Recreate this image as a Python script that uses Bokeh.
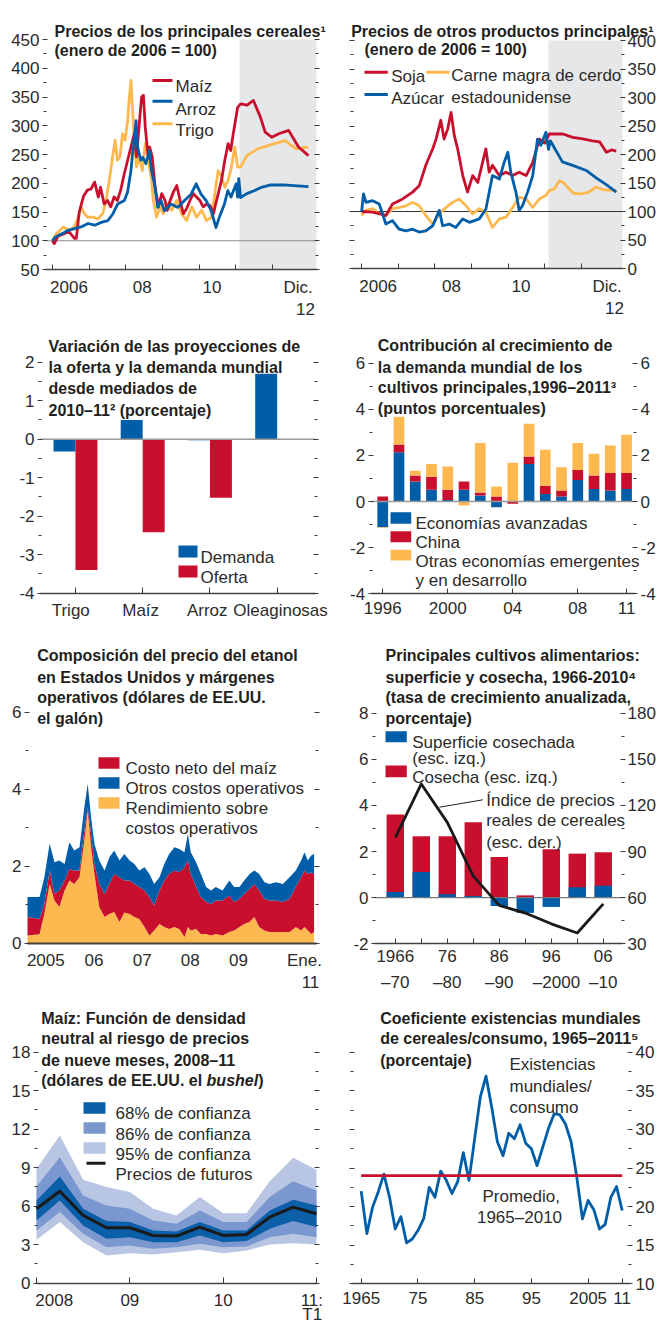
from bokeh.plotting import figure
from bokeh.models import Range1d, LinearAxis, FixedTicker, Label, BoxAnnotation
from bokeh.layouts import column, row
from bokeh.embed import file_html
from bokeh.resources import INLINE

# ======================= DATA =======================
# Panel 1: precios de los principales cereales (enero 2006 = 100)
PROYECCION_DESDE = 2011.1
BASE_INDICE = 100
maiz_t = [2006.0, 2006.05, 2006.15, 2006.3, 2006.45, 2006.6, 2006.65, 2006.73, 2006.85, 2006.95,
          2007.05, 2007.15, 2007.25, 2007.31, 2007.41, 2007.5, 2007.59, 2007.68, 2007.77, 2007.86,
          2007.96, 2008.05, 2008.14, 2008.23, 2008.29, 2008.36, 2008.43, 2008.48, 2008.53, 2008.6,
          2008.65, 2008.72, 2008.8, 2008.89, 2008.98, 2009.07, 2009.13, 2009.21, 2009.3, 2009.39,
          2009.48, 2009.57, 2009.66, 2009.75, 2009.84, 2009.93, 2010.02, 2010.11, 2010.2, 2010.3,
          2010.39, 2010.45, 2010.52, 2010.61, 2010.7, 2010.79, 2010.86, 2010.93, 2010.99, 2011.05,
          2011.13, 2011.31, 2011.48, 2011.67, 2011.8, 2011.98, 2012.17, 2012.44, 2012.58, 2012.71, 2012.98]
maiz_v = [100, 95, 108, 112, 116, 104, 104, 150, 178, 188,
          190, 202, 176, 193, 164, 170, 159, 176, 170, 188,
          217, 240, 263, 286, 246, 298, 350, 353, 298, 251,
          263, 246, 193, 159, 182, 170, 153, 170, 185, 196,
          170, 147, 156, 170, 182, 176, 170, 159, 164, 161,
          147, 164, 182, 205, 240, 269, 257, 286, 309, 332,
          338, 336, 344, 315, 289, 280, 286, 292, 277, 263, 248]
trigo_t = [2006.0, 2006.1, 2006.2, 2006.3, 2006.45, 2006.6, 2006.7, 2006.78, 2006.87, 2006.96,
           2007.1, 2007.23, 2007.37, 2007.46, 2007.55, 2007.64, 2007.71, 2007.77, 2007.84, 2007.91, 2007.98,
           2008.05, 2008.09, 2008.14, 2008.19, 2008.23, 2008.29, 2008.36, 2008.45, 2008.53, 2008.62,
           2008.69, 2008.75, 2008.84, 2008.93, 2009.02, 2009.11, 2009.25, 2009.39, 2009.52, 2009.66,
           2009.8, 2009.93, 2010.07, 2010.2, 2010.34, 2010.45, 2010.52, 2010.61, 2010.7, 2010.79,
           2010.88, 2010.97, 2011.05, 2011.13, 2011.3, 2011.6, 2011.9, 2012.17, 2012.35, 2012.5,
           2012.65, 2012.98]
trigo_v = [100, 112, 118, 124, 118, 124, 141, 159, 147, 141,
           141, 138, 147, 170, 205, 246, 275, 240, 246, 286, 275,
           309, 344, 379, 321, 275, 228, 246, 222, 269, 240,
           211, 170, 141, 159, 147, 164, 153, 170, 147, 135,
           159, 141, 153, 135, 141, 193, 222, 211, 193, 205,
           228, 263, 228, 228, 248, 260, 266, 271, 274, 266,
           260, 263]
arroz_t = [2006.0, 2006.07, 2006.25, 2006.42, 2006.6, 2006.78, 2006.97, 2007.15, 2007.33, 2007.51,
           2007.65, 2007.78, 2007.96, 2008.05, 2008.14, 2008.21, 2008.28, 2008.32, 2008.41, 2008.46,
           2008.55, 2008.64, 2008.7, 2008.78, 2008.87, 2008.96, 2009.05, 2009.23, 2009.42, 2009.6,
           2009.78, 2009.92, 2010.05, 2010.19, 2010.33, 2010.46, 2010.55, 2010.69, 2010.78, 2010.87,
           2011.01, 2011.05, 2011.08, 2011.13, 2011.3, 2011.5, 2011.7, 2011.95, 2012.3, 2012.98]
arroz_v = [100, 106, 112, 118, 121, 124, 130, 127, 132, 135,
           147, 164, 170, 185, 222, 269, 309, 263, 240, 245,
           234, 257, 222, 199, 158, 170, 152, 164, 158, 170,
           181, 199, 181, 170, 152, 123, 141, 164, 187, 176,
           199, 176, 208, 175, 182, 187, 193, 197, 197, 194]

# Panel 2: precios de otros productos principales
soja_t = [2006.0, 2006.3, 2006.5, 2006.66, 2006.84, 2007.12, 2007.39, 2007.57, 2007.75, 2007.94,
          2008.03, 2008.16, 2008.25, 2008.35, 2008.44, 2008.53, 2008.62, 2008.76, 2008.89, 2009.03,
          2009.17, 2009.3, 2009.39, 2009.48, 2009.57, 2009.76, 2009.94, 2010.12, 2010.3, 2010.49,
          2010.67, 2010.85, 2011.0, 2011.12, 2011.2, 2011.5, 2011.76, 2012.0, 2012.3, 2012.5,
          2012.68, 2012.82, 2012.95]
soja_v = [100, 99, 96, 93, 113, 122, 134, 145, 181, 210,
          227, 260, 227, 245, 274, 233, 210, 163, 134, 163,
          151, 186, 210, 169, 181, 163, 169, 163, 169, 163,
          186, 227, 220, 236, 236, 236, 230, 228, 224, 222,
          204, 208, 206]
azucar_t = [2006.0, 2006.05, 2006.12, 2006.3, 2006.48, 2006.57, 2006.66, 2006.84, 2007.02, 2007.21,
            2007.39, 2007.57, 2007.75, 2007.94, 2008.12, 2008.21, 2008.39, 2008.57, 2008.76, 2008.94,
            2009.21, 2009.39, 2009.57, 2009.76, 2009.89, 2009.99, 2010.07, 2010.21, 2010.3, 2010.39,
            2010.53, 2010.67, 2010.8, 2010.89, 2011.03, 2011.1, 2011.15, 2011.48, 2011.76, 2012.13,
            2012.4, 2012.68, 2012.95]
azucar_v = [100, 131, 116, 119, 113, 96, 78, 84, 69, 66,
            69, 64, 66, 75, 102, 75, 78, 72, 87, 81,
            87, 104, 163, 157, 186, 204, 169, 134, 102, 110,
            134, 163, 227, 216, 239, 209, 224, 187, 181, 172,
            159, 147, 134]
carne_t = [2006.0, 2006.11, 2006.3, 2006.48, 2006.66, 2006.84, 2007.03, 2007.21, 2007.39, 2007.57,
           2007.75, 2007.94, 2008.12, 2008.3, 2008.48, 2008.66, 2008.85, 2009.03, 2009.21, 2009.39,
           2009.57, 2009.76, 2009.94, 2010.12, 2010.3, 2010.49, 2010.67, 2010.85, 2011.03, 2011.12,
           2011.25, 2011.4, 2011.5, 2011.62, 2011.78, 2012.0, 2012.2, 2012.4, 2012.6, 2012.95]
carne_v = [93, 102, 105, 96, 93, 105, 107, 110, 116, 110,
           93, 78, 96, 107, 116, 122, 110, 96, 105, 99,
           72, 87, 90, 107, 125, 122, 107, 122, 128, 137,
           139, 154, 151, 143, 132, 131, 134, 143, 138, 137]

# Panel 3: variacion de proyecciones de oferta y demanda (%)
cultivos = ["Trigo", "Maíz", "Arroz", "Oleaginosas"]
demanda = [-0.32, 0.50, -0.03, 1.70]
oferta = [-3.40, -2.42, -1.52, 0.0]

# Panel 4: contribucion al crecimiento de la demanda (puntos porcentuales)
anios_c = [1996, 1997, 1998, 1999, 2000, 2001, 2002, 2003, 2004, 2005, 2006, 2007, 2008, 2009, 2010, 2011]
avanzadas = [-1.11, 2.14, 0.87, 0.51, 0.07, 0.51, 0.26, -0.25, 0.0, 1.63, 0.33, 0.22, 0.94, 0.55, 0.48, 0.55]
china = [0.22, 0.33, 0.26, 0.57, 0.44, 0.36, 0.13, 0.22, -0.10, 0.32, 0.36, 0.26, 0.43, 0.58, 0.76, 0.69]
otras = [-0.03, 1.21, 0.21, 0.55, 1.01, -0.17, 2.15, 0.43, 1.68, 1.42, 1.56, 1.01, 1.17, 0.94, 1.19, 1.66]

# Panel 5: composicion del precio del etanol (USD por galon) - techos acumulados
etanol_t = [2005.0, 2005.25, 2005.35, 2005.46, 2005.56, 2005.66, 2005.77, 2005.87, 2005.97, 2006.08,
            2006.18, 2006.25, 2006.32, 2006.39, 2006.49, 2006.6, 2006.7, 2006.8, 2006.91, 2007.01,
            2007.12, 2007.22, 2007.32, 2007.43, 2007.53, 2007.63, 2007.74, 2007.84, 2007.94, 2008.05,
            2008.15, 2008.26, 2008.33, 2008.39, 2008.5, 2008.6, 2008.71, 2008.81, 2008.91, 2009.05,
            2009.19, 2009.29, 2009.4, 2009.5, 2009.61, 2009.71, 2009.81, 2009.92, 2010.02, 2010.16,
            2010.3, 2010.44, 2010.57, 2010.68, 2010.75, 2010.82, 2010.89, 2010.95]
rendimiento_top = [0.2, 0.23, 0.76, 1.54, 1.11, 0.94, 1.37, 1.63, 1.54, 1.71,
                   2.67, 3.45, 2.49, 1.8, 0.94, 0.68, 0.76, 0.81, 0.55, 0.8,
                   0.76, 0.68, 0.63, 0.42, 0.2, 0.33, 0.5, 0.42, 0.37, 0.42,
                   0.37, 0.16, 0.42, 0.33, 0.37, 0.24, 0.24, 0.2, 0.24, 0.2,
                   0.29, 0.33, 0.42, 0.5, 0.55, 0.68, 0.42, 0.33, 0.29, 0.29,
                   0.29, 0.29, 0.42, 0.33, 0.42, 0.33, 0.24, 0.29]
costo_maiz_top = [0.68, 0.63, 1.02, 1.89, 1.28, 1.37, 1.63, 1.93, 1.89, 1.89,
                  2.93, 3.53, 2.84, 2.06, 1.54, 1.28, 1.54, 1.8, 1.71, 1.63,
                  1.63, 1.54, 1.46, 1.37, 1.2, 0.98, 1.37, 1.63, 1.8, 1.89,
                  1.84, 1.97, 2.15, 1.8, 1.46, 1.2, 1.07, 1.02, 1.11, 1.11,
                  1.24, 1.07, 1.15, 1.28, 1.41, 1.54, 1.37, 1.15, 1.11, 1.11,
                  1.07, 1.15, 1.46, 1.71, 1.89, 1.8, 1.84, 1.8]
precio_total = [1.2, 1.2, 1.71, 2.58, 2.1, 2.15, 2.06, 2.62, 2.41, 2.49,
                3.53, 4.14, 3.27, 2.58, 2.15, 1.89, 2.23, 2.41, 2.15, 2.32,
                2.15, 2.06, 1.89, 1.97, 1.8, 1.54, 1.71, 2.06, 2.32, 2.49,
                2.45, 2.36, 2.84, 2.36, 2.1, 1.8, 1.46, 1.37, 1.46, 1.37,
                1.63, 1.46, 1.46, 1.63, 1.8, 1.89, 1.8, 1.58, 1.54, 1.58,
                1.54, 1.71, 1.89, 2.15, 2.36, 2.15, 2.28, 2.32]

# Panel 6: superficie y cosecha (tasa anualizada, %) e indice de precios reales
periodo_l1 = ["1966", "", "76", "", "86", "", "96", "", "06"]
periodo_l2 = ["–70", "", "–80", "", "–90", "", "–2000", "", "–10"]
superficie = [0.25, 1.11, 0.15, 0.07, -0.36, -0.66, -0.40, 0.45, 0.52]
cosecha = [3.61, 2.66, 2.66, 3.27, 1.76, 0.10, 2.10, 1.91, 1.97]
precio_real = [99, 134, 109, 74, 55, 50, 43, 37, 56]

# Panel 7: maiz, densidad neutral al riesgo (USD por bushel)
fan_t = [2008.0, 2008.25, 2008.5, 2008.75, 2009.0, 2009.25, 2009.5, 2009.75, 2010.0, 2010.25, 2010.5, 2010.75, 2011.0]
futuros = [5.80, 7.17, 5.28, 4.32, 4.32, 3.72, 3.67, 4.37, 3.72, 3.80, 5.15, 5.93, 5.41]
hi68 = [6.45, 8.32, 5.80, 4.84, 4.76, 4.11, 4.03, 4.76, 4.11, 4.11, 5.67, 6.50, 6.06]
lo68 = [4.89, 6.45, 4.50, 3.46, 3.59, 3.20, 3.20, 3.72, 3.20, 3.28, 4.24, 4.84, 4.37]
hi86 = [7.54, 9.82, 6.84, 6.06, 5.80, 4.89, 4.63, 5.67, 4.76, 4.76, 6.71, 7.95, 7.23]
lo86 = [4.11, 5.54, 3.85, 2.81, 2.94, 2.68, 2.81, 3.07, 2.81, 2.86, 3.59, 3.85, 3.59]
hi95 = [8.92, 11.51, 8.06, 7.49, 7.10, 5.80, 5.28, 6.71, 5.46, 5.46, 7.95, 9.77, 8.84]
lo95 = [3.38, 4.76, 3.20, 2.16, 2.34, 2.24, 2.42, 2.60, 2.34, 2.55, 3.02, 3.12, 3.02]

# Panel 8: coeficiente existencias/consumo (%)
anios_e = list(range(1965, 2012))
existencias = [22.0, 16.5, 19.9, 21.9, 24.2, 21.2, 17.1, 18.7, 15.3, 15.8,
               16.9, 18.4, 22.5, 21.2, 24.6, 23.4, 21.7, 23.2, 27.0, 23.4,
               28.8, 34.2, 36.9, 32.9, 28.4, 26.6, 29.5, 28.8, 30.6, 28.2,
               27.5, 25.3, 27.7, 30.1, 32.0, 31.9, 30.7, 28.4, 23.8, 18.4,
               20.8, 19.6, 17.1, 17.7, 21.2, 22.6, 19.5]
promedio = 24.0

# ======================= STYLE =======================
FONT = "Liberation Sans"
INK = "#231F20"
TXT = "#2b2b2b"
TICKC = "#3a3a3a"
AXC = "#444444"
RED = "#C8102E"
BLUE = "#005EA8"
ORANGE = "#FDB94F"
SHADE = "#E6E7E8"
FAN_DARK = "#0B5EA8"
FAN_MID = "#7A98CF"
FAN_LIGHT = "#B8C5E3"
LW = 2.8


class Panel:
    """A figure whose frame fills the whole canvas; the visible plot area
    is drawn with fixed-location axes bounded to the data ranges."""

    def __init__(self, W, H, dx, dy, frame, xr, yr):
        self.fl, self.ft, self.fr, self.fb = frame
        self.x0, self.x1 = xr
        self.y0, self.y1 = yr
        xa, xb = self.X(dx), self.X(dx + W)
        ya, yb = self.Y(dy + H), self.Y(dy)
        p = figure(width=W, height=H, x_range=Range1d(xa, xb), y_range=Range1d(ya, yb),
                   x_axis_type=None, y_axis_type=None, output_backend="svg",
                   toolbar_location=None, min_border_left=0, min_border_right=0,
                   min_border_top=0, min_border_bottom=0)
        p.outline_line_color = None
        p.background_fill_color = "white"
        p.border_fill_color = "white"
        self.p = p

    def X(self, rx):
        return self.x0 + (rx - self.fl) / (self.fr - self.fl) * (self.x1 - self.x0)

    def Y(self, ry):
        return self.y1 - (ry - self.ft) / (self.fb - self.ft) * (self.y1 - self.y0)

    def text(self, rx, ry, s, size="17px", style="normal", align="left", color=TXT, x=None):
        xx = self.X(rx) if x is None else x
        self.p.add_layout(Label(x=xx, y=self.Y(ry), text=s, text_font=FONT,
                                text_font_size=size, text_font_style=style,
                                text_align=align, text_baseline="alphabetic",
                                text_color=color))

    def title(self, rx, baselines, lines):
        for ry, s in zip(baselines, lines):
            self.text(rx, ry, s, size="16px", style="bold", color=INK)

    def swatch(self, rx0, ry0, rx1, ry1, color):
        self.p.add_layout(BoxAnnotation(left=self.X(rx0), right=self.X(rx1),
                                        top=self.Y(ry0), bottom=self.Y(ry1),
                                        fill_color=color, fill_alpha=1.0,
                                        line_color=None, level="overlay"))

    def swatch_line(self, rx0, rx1, ryc, color, th=3.0):
        self.swatch(rx0, ryc - th / 2, rx1, ryc + th / 2, color)

    def shade(self, left, color):
        self.p.add_layout(BoxAnnotation(left=left, right=self.x1, bottom=self.y0, top=self.y1,
                                        fill_color=color, fill_alpha=1.0, line_color=None,
                                        level="underlay"))

    def hrule(self, yv, color, width):
        self.p.segment(x0=[self.x0], y0=[yv], x1=[self.x1], y1=[yv],
                       line_color=color, line_width=width)


def add_axis(g, side, ticks, labels=None, minor=(), maj_in=2, maj_out=3, min_in=1, min_out=2,
             standoff=3, line=False, line_width=1.5, rng=None, bounds=None):
    if side in ("left", "right"):
        loc = g.x0 if side == "left" else g.x1
        bnd = bounds if bounds is not None else (g.y0, g.y1)
    else:
        loc = g.y0
        bnd = (g.x0, g.x1)
    ax = LinearAxis(ticker=FixedTicker(ticks=list(ticks), minor_ticks=list(minor)),
                    fixed_location=loc, bounds=bnd)
    if rng is not None:
        ax.y_range_name = rng
    ax.major_tick_in = maj_in
    ax.major_tick_out = maj_out
    ax.minor_tick_in = min_in
    ax.minor_tick_out = min_out
    ax.major_tick_line_color = TICKC
    ax.minor_tick_line_color = TICKC
    ax.major_tick_line_width = 1
    ax.minor_tick_line_width = 1
    ax.major_label_standoff = standoff
    ax.major_label_text_font = FONT
    ax.major_label_text_color = TXT
    ax.major_label_text_font_size = "17px"
    if labels is None:
        labels = [""] * len(ticks)
    ax.major_label_overrides = {t: s for t, s in zip(ticks, labels)}
    if line:
        ax.axis_line_color = AXC
        ax.axis_line_width = line_width
    else:
        ax.axis_line_color = None
    g.p.add_layout(ax, side)


YEAR_LAB_POS = [2006.45, 2008.45, 2010.35, 2012.7]
YEAR_LAB = ["2006", "08", "10", "Dic."]
YEAR_TICKS = [2006, 2007, 2008, 2009, 2010, 2011, 2012]

WL, WR = 329, 329
H1, H2, H3, H4 = 320, 308, 368, 326
D1, D2, D3, D4 = 0, 320, 628, 996

# ---------------- Panel 1 ----------------
g1 = Panel(WL, H1, 0, D1, (45, 39, 316, 269), (2005.81, 2013.2), (50, 450))
p = g1.p
g1.shade(PROYECCION_DESDE, SHADE)
g1.hrule(BASE_INDICE, "#8c8c8c", 1.2)
p.line(trigo_t, trigo_v, line_color=ORANGE, line_width=LW, line_join="round")
p.line(maiz_t, maiz_v, line_color=RED, line_width=LW, line_join="round")
p.line(arroz_t, arroz_v, line_color=BLUE, line_width=LW, line_join="round")
yt = list(range(50, 451, 50))
ym = list(range(75, 426, 50))
add_axis(g1, "left", yt, [str(v) for v in yt], minor=ym)
add_axis(g1, "right", yt, None, minor=ym)
add_axis(g1, "below", YEAR_LAB_POS, YEAR_LAB, minor=YEAR_TICKS, maj_in=0, maj_out=0,
         min_in=5, min_out=0, standoff=8, line=True)
g1.text(305, 308.3, "12", align="center")
g1.title(54, [30.7, 50], ["Precios de los principales cereales¹", "(enero de 2006 = 100)"])
for yc, yb, c, s in [(80, 86, RED, "Maíz"), (100.7, 109.3, BLUE, "Arroz"), (123.3, 130, ORANGE, "Trigo")]:
    g1.swatch_line(152, 172, yc, c)
    g1.text(175, yb, s)

# ---------------- Panel 2 ----------------
g2 = Panel(WR, H1, 329, D1, (352, 40, 622, 268), (2005.75, 2013.12), (0, 400))
p = g2.p
g2.shade(PROYECCION_DESDE, SHADE)
g2.hrule(BASE_INDICE, "#333333", 1.0)
p.line(carne_t, carne_v, line_color=ORANGE, line_width=LW, line_join="round")
p.line(soja_t, soja_v, line_color=RED, line_width=LW, line_join="round")
p.line(azucar_t, azucar_v, line_color=BLUE, line_width=LW, line_join="round")
yt = list(range(0, 401, 50))
ym = list(range(25, 376, 50))
add_axis(g2, "left", yt, None, minor=ym)
add_axis(g2, "right", yt, [str(v) for v in yt], minor=ym, standoff=2)
add_axis(g2, "below", YEAR_LAB_POS, YEAR_LAB, minor=YEAR_TICKS, maj_in=0, maj_out=0,
         min_in=5, min_out=0, standoff=8, line=True)
g2.text(614, 307.3, "12", align="center")
g2.text(350.7, 30.7, "Precios de otros productos principales¹", size="16px", style="bold", color=INK)
g2.text(364, 49.3, "(enero de 2006 = 100)", size="16px", style="bold", color=INK)
g2.swatch_line(364, 387.3, 71.7, RED)
g2.text(390.7, 76, "Soja")
g2.swatch_line(364, 387.3, 94, BLUE)
g2.text(390.7, 98.3, "Azúcar")
g2.swatch_line(425.7, 449, 71.7, ORANGE)
g2.text(450.7, 75, "Carne magra de cerdo")
g2.text(450.7, 96.7, "estadounidense")

# ---------------- Panel 3 ----------------
g3 = Panel(WL, H2, 0, D2, (40, 361.7, 315, 592.7), (-0.52, 3.57), (-4, 2))
p = g3.p
idx3 = list(range(len(cultivos)))
BW3 = 0.327
p.vbar(x=[i - BW3 / 2 for i in idx3], top=demanda, bottom=0, width=BW3, fill_color=BLUE, line_color=None)
p.vbar(x=[i + BW3 / 2 for i in idx3], top=oferta, bottom=0, width=BW3, fill_color=RED, line_color=None)
g3.hrule(0, "#9a9a9a", 1.5)
yt = [-4, -3, -2, -1, 0, 1, 2]
ym = [-3.5, -2.5, -1.5, -0.5, 0.5, 1.5]
add_axis(g3, "left", yt, [str(v) for v in yt], minor=ym)
add_axis(g3, "right", yt, None, minor=ym)
lab_shift3 = [-0.07, -0.03, -0.04, 0.05]
add_axis(g3, "below", [i + d for i, d in zip(idx3, lab_shift3)], cultivos, minor=idx3,
         maj_in=0, maj_out=0, min_in=6, min_out=0, standoff=8, line=True)
g3.title(48, [346, 366.7, 388.3, 410], ["Variación de las proyecciones de",
                                        "la oferta y la demanda mundial",
                                        "desde mediados de",
                                        "2010–11² (porcentaje)"])
g3.swatch(178, 545, 197, 557, BLUE)
g3.text(200, 557.3, "Demanda")
g3.swatch(178, 565, 197, 577, RED)
g3.text(200, 577.3, "Oferta")

# ---------------- Panel 4 ----------------
g4 = Panel(WR, H2, 329, D2, (370.7, 362.7, 634, 593.3), (1995.29, 2011.49), (-4, 6))
p = g4.p
pos_base = [0.0] * len(anios_c)
neg_base = [0.0] * len(anios_c)
for serie, col in [(avanzadas, BLUE), (china, RED), (otras, ORANGE)]:
    tops, bots = [], []
    for k, v in enumerate(serie):
        if v >= 0:
            bots.append(pos_base[k]); tops.append(pos_base[k] + v); pos_base[k] += v
        else:
            tops.append(neg_base[k]); bots.append(neg_base[k] + v); neg_base[k] += v
    p.vbar(x=anios_c, top=tops, bottom=bots, width=0.66, fill_color=col, line_color=None)
g4.hrule(0, "#9a9a9a", 1.5)
yt = [-4, -2, 0, 2, 4, 6]
ym = [-3, -1, 1, 3, 5]
add_axis(g4, "left", yt, [str(v) for v in yt], minor=ym)
add_axis(g4, "right", yt, [str(v) for v in yt], minor=ym)
add_axis(g4, "below", [1996, 2000, 2004, 2008, 2011], ["1996", "2000", "04", "08", "11"],
         maj_in=5, maj_out=0, standoff=8, line=True)
g4.title(377.3, [345, 366.7, 386.7, 408.3], ["Contribución al crecimiento de",
                                             "la demanda mundial de los",
                                             "cultivos principales,1996–2011³",
                                             "(puntos porcentuales)"])
g4.swatch(390, 511.7, 410.7, 523.3, BLUE)
g4.text(415, 522.7, "Economías avanzadas")
g4.swatch(390, 530.7, 410.7, 541.7, RED)
g4.text(415, 541.7, "China")
g4.swatch(390, 549.3, 410.7, 560, ORANGE)
g4.text(415, 560.7, "Otras economías emergentes")
g4.text(415, 580, "y en desarrollo")

# ---------------- Panel 5 ----------------
g5 = Panel(WL, H3, 0, D3, (27, 711.7, 316, 942.7), (2005.0, 2011.0), (0, 6))
p = g5.p
p.varea(x=etanol_t, y1=0, y2=rendimiento_top, fill_color=ORANGE)
p.varea(x=etanol_t, y1=rendimiento_top, y2=costo_maiz_top, fill_color=RED)
p.varea(x=etanol_t, y1=costo_maiz_top, y2=precio_total, fill_color=BLUE)
add_axis(g5, "left", [0, 2, 4, 6], ["0", "2", "4", "6"], minor=[1, 3, 5])
add_axis(g5, "right", [0, 2, 4, 6], None, minor=[1, 3, 5])
add_axis(g5, "below", [2005.38, 2006.38, 2007.38, 2008.38, 2009.38, 2010.75],
         ["2005", "06", "07", "08", "09", "Ene."], maj_in=0, maj_out=0, standoff=8,
         line=True, line_width=2)
g5.text(310, 981, "11", align="center")
g5.title(36.7, [655, 676.7, 696.7, 718.3], ["Composición del precio del etanol",
                                            "en Estados Unidos y márgenes",
                                            "operativos (dólares de EE.UU.",
                                            "el galón)"])
g5.swatch(98, 756.7, 119, 768.3, RED)
g5.text(125, 768.3, "Costo neto del maíz")
g5.swatch(98, 776.7, 119, 788.3, BLUE)
g5.text(125, 788.3, "Otros costos operativos")
g5.swatch(98, 796.7, 119, 808.3, ORANGE)
g5.text(125, 807.7, "Rendimiento sobre")
g5.text(125, 828.3, "costos operativos")

# ---------------- Panel 6 ----------------
g6 = Panel(WR, H3, 329, D3, (374, 712.7, 622, 943.3), (-0.8, 8.74), (-2, 8))
p = g6.p
R0, R1 = 30, 180
ybot, ytop = p.y_range.start, p.y_range.end
to_r = lambda v: R0 + (v - g6.y0) / (g6.y1 - g6.y0) * (R1 - R0)
p.extra_y_ranges = {"r": Range1d(to_r(ybot), to_r(ytop))}
idx6 = list(range(len(cosecha)))
p.vbar(x=idx6, top=cosecha, bottom=0, width=0.67, fill_color=RED, line_color=None)
p.vbar(x=idx6, top=superficie, bottom=0, width=0.67, fill_color=BLUE, line_color=None)
g6.hrule(0, "#777777", 1.2)
p.line(idx6, precio_real, y_range_name="r", line_color="#1a1a1a", line_width=2.8, line_join="round")
add_axis(g6, "left", [-2, 0, 2, 4, 6, 8], ["-2", "0", "2", "4", "6", "8"], minor=[-1, 1, 3, 5, 7])
add_axis(g6, "right", [30, 60, 90, 120, 150, 180], ["30", "60", "90", "120", "150", "180"],
         minor=[45, 75, 105, 135, 165], rng="r", standoff=2, bounds=(R0, R1))
add_axis(g6, "below", idx6, periodo_l1, maj_in=5, maj_out=0, standoff=6, line=True)
for i, s in enumerate(periodo_l2):
    if s:
        g6.text(0, 981.7, s, align="center", x=i + (0.2 if s == "–2000" else 0.0))
g6.title(385, [655, 676.7, 696.7, 718.3], ["Principales cultivos alimentarios:",
                                           "superficie y cosecha, 1966-2010⁴",
                                           "(tasa de crecimiento anualizada,",
                                           "porcentaje)"])
g6.swatch(385, 730.7, 406.3, 741.7, BLUE)
g6.text(411.7, 741.7, "Superficie cosechada")
g6.text(411.7, 758.3, "(esc. izq.)")
g6.swatch(385, 765, 406.3, 776.7, RED)
g6.text(411.7, 776.7, "Cosecha (esc. izq.)")
g6.text(485.7, 800, "Índice de precios")
g6.text(485.7, 820, "reales de cereales")
g6.text(485.7, 841.7, "(esc. der.)")
p.segment(x0=[g6.X(439)], y0=[g6.Y(806.7)], x1=[g6.X(482.3)], y1=[g6.Y(799.3)],
          line_color="#231F20", line_width=1)

# ---------------- Panel 7 ----------------
g7 = Panel(WL, H4, 0, D4, (36, 1051.7, 316, 1282.7), (2008.0, 2011.0), (0, 18))
p = g7.p
p.varea(x=fan_t, y1=lo95, y2=hi95, fill_color=FAN_LIGHT)
p.varea(x=fan_t, y1=lo86, y2=hi86, fill_color=FAN_MID)
p.varea(x=fan_t, y1=lo68, y2=hi68, fill_color=FAN_DARK)
p.line(fan_t, futuros, line_color="#1a1a1a", line_width=3, line_join="round")
yt = [0, 3, 6, 9, 12, 15, 18]
ym = [1.5, 4.5, 7.5, 10.5, 13.5, 16.5]
add_axis(g7, "left", yt, [str(v) for v in yt], minor=ym)
add_axis(g7, "right", yt, None, minor=ym)
add_axis(g7, "below", [2008.19, 2009, 2010, 2010.95], ["2008", "09", "10", "11:"],
         minor=[2008, 2009, 2010, 2011], maj_in=0, maj_out=0, min_in=6, min_out=0,
         standoff=8, line=True)
g7.text(311.7, 1313.5, "T1", align="center")
g7.title(40.7, [1018.3, 1038.3, 1060], ["Maíz: Función de densidad",
                                        "neutral al riesgo de precios",
                                        "de nueve meses, 2008–11"])
g7.text(40.7, 1080, "(dólares de EE.UU. el ", size="16px", style="bold", color=INK)
g7.text(206.1, 1080, "bushel", size="16px", style="bold italic", color=INK)
g7.text(257.7, 1080, ")", size="16px", style="bold", color=INK)
g7.swatch(83, 1101.7, 105, 1113.3, FAN_DARK)
g7.text(115, 1113.3, "68% de confianza")
g7.swatch(83, 1121.7, 105, 1133.3, FAN_MID)
g7.text(115, 1134, "86% de confianza")
g7.swatch(83, 1141.7, 105, 1153.3, FAN_LIGHT)
g7.text(115, 1154, "95% de confianza")
g7.swatch_line(86, 105, 1162.7, "#1a1a1a")
g7.text(115, 1174, "Precios de futuros")

# ---------------- Panel 8 ----------------
g8 = Panel(WR, H4, 329, D4, (352, 1051.7, 629, 1283.3), (1963.47, 2012.29), (10, 40))
p = g8.p
p.line(anios_e, existencias, line_color=BLUE, line_width=2.8, line_join="round")
p.line([anios_e[0], anios_e[-1]], [promedio, promedio], line_color=RED, line_width=2.8)
yt = [10, 15, 20, 25, 30, 35, 40]
ym = [12.5, 17.5, 22.5, 27.5, 32.5, 37.5]
add_axis(g8, "left", yt, None, minor=ym)
add_axis(g8, "right", yt, [str(v) for v in yt], minor=ym)
add_axis(g8, "below", [1965, 1975, 1985, 1995, 2005, 2011], ["1965", "75", "85", "95", "2005", "11"],
         maj_in=5, maj_out=0, standoff=8, line=True)
g8.title(379.7, [1017.7, 1038.3, 1060], ["Coeficiente existencias mundiales",
                                         "de cereales/consumo, 1965–2011⁵",
                                         "(porcentaje)"])
g8.text(509, 1064.3, "Existencias")
g8.text(509, 1086, "mundiales/")
g8.text(509, 1106.7, "consumo")
g8.text(520.7, 1196, "Promedio,", align="center")
g8.text(519, 1216.7, "1965–2010", align="center")

layout = column(row(g1.p, g2.p), row(g3.p, g4.p), row(g5.p, g6.p), row(g7.p, g8.p))
open("out.html", "w").write(file_html(layout, INLINE, title="Precios de productos primarios"))
